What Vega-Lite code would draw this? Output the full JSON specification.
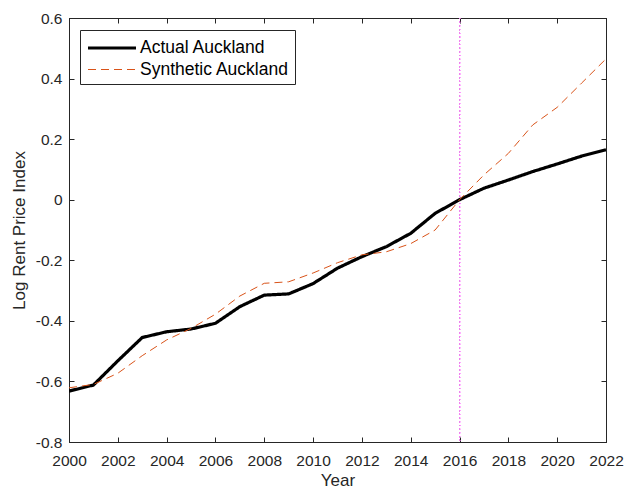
{
  "$schema": "https://vega.github.io/schema/vega-lite/v6.json",
  "width": 537,
  "height": 424,
  "autosize": {"type": "none"},
  "padding": {"left": 69, "top": 18, "right": 18, "bottom": 49},
  "background": "white",
  "config": {
    "font": "Liberation Sans",
    "view": {"stroke": "#262626", "strokeWidth": 1},
    "axis": {
      "grid": false,
      "domainColor": "#262626",
      "tickColor": "#262626",
      "labelColor": "#262626",
      "titleColor": "#262626",
      "labelFont": "Liberation Sans",
      "titleFont": "Liberation Sans",
      "labelFontSize": 15.5,
      "titleFontSize": 17,
      "titleFontWeight": "normal",
      "labelOverlap": false,
      "labelFlush": false,
      "tickSize": -5,
      "tickWidth": 1,
      "domainWidth": 1
    }
  },
  "data": {
    "values": [
      {"Year": 2000, "series": "Actual Auckland", "value": -0.632},
      {"Year": 2001, "series": "Actual Auckland", "value": -0.612},
      {"Year": 2002, "series": "Actual Auckland", "value": -0.532},
      {"Year": 2003, "series": "Actual Auckland", "value": -0.455},
      {"Year": 2004, "series": "Actual Auckland", "value": -0.436},
      {"Year": 2005, "series": "Actual Auckland", "value": -0.427},
      {"Year": 2006, "series": "Actual Auckland", "value": -0.408},
      {"Year": 2007, "series": "Actual Auckland", "value": -0.353},
      {"Year": 2008, "series": "Actual Auckland", "value": -0.315},
      {"Year": 2009, "series": "Actual Auckland", "value": -0.311},
      {"Year": 2010, "series": "Actual Auckland", "value": -0.277},
      {"Year": 2011, "series": "Actual Auckland", "value": -0.226},
      {"Year": 2012, "series": "Actual Auckland", "value": -0.188},
      {"Year": 2013, "series": "Actual Auckland", "value": -0.155},
      {"Year": 2014, "series": "Actual Auckland", "value": -0.111},
      {"Year": 2015, "series": "Actual Auckland", "value": -0.045},
      {"Year": 2016, "series": "Actual Auckland", "value": 0.0},
      {"Year": 2017, "series": "Actual Auckland", "value": 0.038},
      {"Year": 2018, "series": "Actual Auckland", "value": 0.065},
      {"Year": 2019, "series": "Actual Auckland", "value": 0.093},
      {"Year": 2020, "series": "Actual Auckland", "value": 0.118},
      {"Year": 2021, "series": "Actual Auckland", "value": 0.144},
      {"Year": 2022, "series": "Actual Auckland", "value": 0.165},
      {"Year": 2000, "series": "Synthetic Auckland", "value": -0.621},
      {"Year": 2001, "series": "Synthetic Auckland", "value": -0.61},
      {"Year": 2002, "series": "Synthetic Auckland", "value": -0.573},
      {"Year": 2003, "series": "Synthetic Auckland", "value": -0.515},
      {"Year": 2004, "series": "Synthetic Auckland", "value": -0.463},
      {"Year": 2005, "series": "Synthetic Auckland", "value": -0.425},
      {"Year": 2006, "series": "Synthetic Auckland", "value": -0.378},
      {"Year": 2007, "series": "Synthetic Auckland", "value": -0.318},
      {"Year": 2008, "series": "Synthetic Auckland", "value": -0.276},
      {"Year": 2009, "series": "Synthetic Auckland", "value": -0.271},
      {"Year": 2010, "series": "Synthetic Auckland", "value": -0.242},
      {"Year": 2011, "series": "Synthetic Auckland", "value": -0.208},
      {"Year": 2012, "series": "Synthetic Auckland", "value": -0.182},
      {"Year": 2013, "series": "Synthetic Auckland", "value": -0.172},
      {"Year": 2014, "series": "Synthetic Auckland", "value": -0.145},
      {"Year": 2015, "series": "Synthetic Auckland", "value": -0.1},
      {"Year": 2016, "series": "Synthetic Auckland", "value": 0.0},
      {"Year": 2017, "series": "Synthetic Auckland", "value": 0.082},
      {"Year": 2018, "series": "Synthetic Auckland", "value": 0.153},
      {"Year": 2019, "series": "Synthetic Auckland", "value": 0.247},
      {"Year": 2020, "series": "Synthetic Auckland", "value": 0.305},
      {"Year": 2021, "series": "Synthetic Auckland", "value": 0.385},
      {"Year": 2022, "series": "Synthetic Auckland", "value": 0.465}
    ]
  },
  "layer": [
    {
      "mark": {"type": "point", "opacity": 0},
      "encoding": {
        "x": {"field": "Year", "type": "quantitative", "scale": {"domain": [2000, 2022], "nice": false, "zero": false},
              "axis": {"orient": "top", "labels": false, "title": null, "values": [2000,2002,2004,2006,2008,2010,2012,2014,2016,2018,2020,2022]}},
        "y": {"field": "value", "type": "quantitative", "scale": {"domain": [-0.8, 0.6], "nice": false, "zero": false},
              "axis": {"orient": "right", "labels": false, "title": null, "values": [-0.8,-0.6,-0.4,-0.2,0,0.2,0.4,0.6]}}
      }
    },
    {
      "mark": {"type": "rule", "color": "#EE82EE", "strokeWidth": 1, "strokeDash": [1, 2.7]},
      "encoding": {
        "x": {"datum": 2016, "type": "quantitative", "axis": null}
      }
    },
    {
      "mark": {"type": "line", "clip": true},
      "encoding": {
        "x": {"field": "Year", "type": "quantitative",
              "axis": {"orient": "bottom", "title": "Year", "titlePadding": 4, "labelPadding": 16, "format": "d", "values": [2000,2002,2004,2006,2008,2010,2012,2014,2016,2018,2020,2022]}},
        "y": {"field": "value", "type": "quantitative",
              "axis": {"orient": "left", "title": "Log Rent Price Index", "titlePadding": 7, "labelPadding": 12, "values": [-0.8,-0.6,-0.4,-0.2,0,0.2,0.4,0.6], "labelExpr": "datum.value == 0 ? '0' : replace(format(datum.value, '.1f'), '\u2212', '-')"}},
        "color": {"field": "series", "type": "nominal",
                  "scale": {"domain": ["Actual Auckland", "Synthetic Auckland"], "range": ["#000000", "#D95319"]},
                  "legend": {
                    "title": null, "orient": "none", "legendX": 11, "legendY": 12,
                    "symbolType": "M-2.4,0H2.4", "symbolSize": 400, "symbolOffset": 14,
                    "labelFontSize": 17.5, "labelFont": "Liberation Sans", "labelColor": "#000000",
                    "labelOffset": 16, "rowPadding": 2, "padding": 6,
                    "fillColor": "white", "strokeColor": "#262626"
                  }},
        "strokeDash": {"field": "series", "type": "nominal",
                       "scale": {"domain": ["Actual Auckland", "Synthetic Auckland"], "range": [[1, 0], [8, 5]]},
                       "legend": null},
        "strokeWidth": {"field": "series", "type": "nominal",
                        "scale": {"domain": ["Actual Auckland", "Synthetic Auckland"], "range": [3.2, 1]},
                        "legend": null}
      }
    }
  ],
  "resolve": {"axis": {"x": "independent", "y": "independent"}}
}
